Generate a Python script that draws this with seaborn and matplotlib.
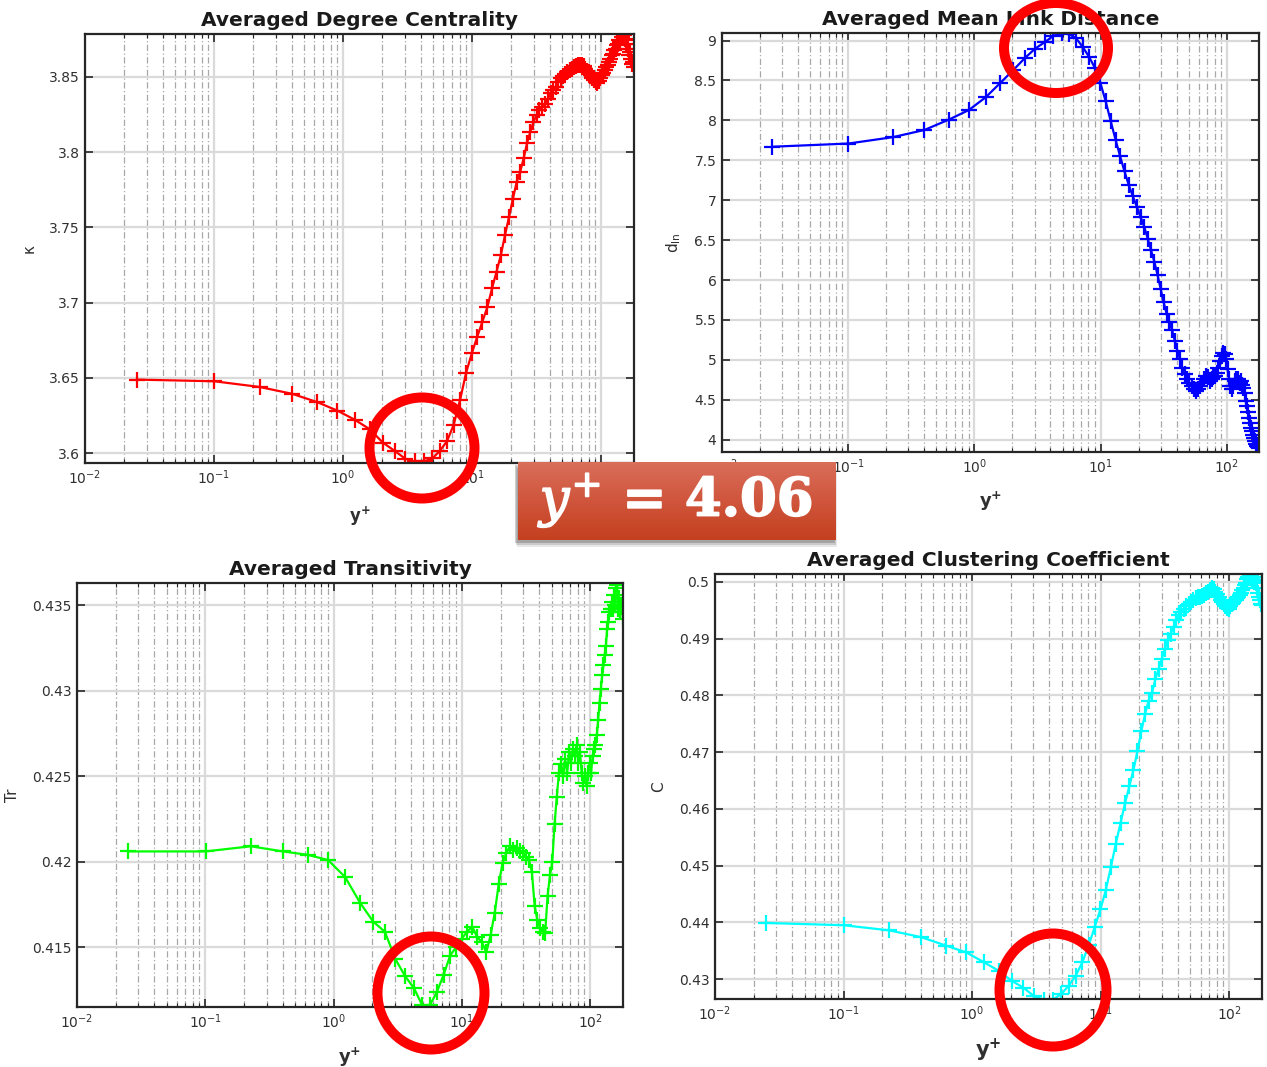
import numpy as np
import pandas as pd
import matplotlib
matplotlib.use("Agg")
import matplotlib.pyplot as plt
import seaborn as sns
from matplotlib.patches import Ellipse, Rectangle
from matplotlib.ticker import LogLocator, NullFormatter
from matplotlib.colors import LinearSegmentedColormap
import matplotlib.patheffects as pe

# ---------------- data ----------------
yplus = [0.0251, 0.1005, 0.226, 0.402, 0.628, 0.904, 1.230, 1.606, 2.032, 2.508,
         3.033, 3.607, 4.231, 4.904, 5.625, 6.396, 7.214, 8.082, 8.996, 9.960,
         10.97, 12.03, 13.13, 14.28, 15.48, 16.72, 18.01, 19.35, 20.73, 22.15,
         23.62, 25.13, 26.68, 28.28, 29.92, 31.60, 33.32, 35.09, 36.89, 38.74,
         40.62, 42.54, 44.50, 46.50, 48.54, 50.61, 52.72, 54.86, 57.04, 59.26,
         61.51, 63.79, 66.10, 68.45, 70.83, 73.23, 75.67, 78.14, 80.63, 83.16,
         85.71, 88.29, 90.89, 93.52, 96.17, 98.84, 101.5, 104.3, 107.0, 109.8,
         112.5, 115.3, 118.1, 121.0, 123.8, 126.7, 129.6, 132.4, 135.3, 138.3,
         141.2, 144.1, 147.0, 150.0, 152.9, 155.9, 158.9, 161.8, 164.8, 167.8,
         170.7, 173.7, 176.7, 180.0]

kappa = [3.6489, 3.6478, 3.6440, 3.6395, 3.6340, 3.6283, 3.6223, 3.6160, 3.6071, 3.6016,
         3.5964, 3.5945, 3.5945, 3.5965, 3.6015, 3.6080, 3.6190, 3.6355, 3.6535, 3.6664,
         3.6774, 3.6874, 3.6970, 3.7095, 3.7206, 3.7316, 3.7450, 3.7570, 3.7690, 3.7800,
         3.7870, 3.7960, 3.8060, 3.8135, 3.8200, 3.8246, 3.8280, 3.8300, 3.8323, 3.8356,
         3.8390, 3.8411, 3.8434, 3.8467, 3.8490, 3.8507, 3.8522, 3.8533, 3.8544, 3.8555,
         3.8566, 3.8573, 3.8577, 3.8582, 3.8577, 3.8573, 3.8555, 3.8538, 3.8522, 3.8511,
         3.8496, 3.8482, 3.8467, 3.8462, 3.8470, 3.8490, 3.8511, 3.8527, 3.8544, 3.8566,
         3.8582, 3.8600, 3.8622, 3.8644, 3.8655, 3.8677, 3.8688, 3.8710, 3.8721, 3.8743,
         3.8732, 3.8766, 3.8788, 3.8780, 3.8754, 3.8721, 3.8743, 3.8688, 3.8644, 3.8666,
         3.8622, 3.8588, 3.8600, 3.8566]

dln = [7.67, 7.71, 7.79, 7.88, 8.01, 8.13, 8.29, 8.47, 8.63, 8.78,
       8.90, 8.98, 9.06, 9.09, 9.08, 9.03, 8.92, 8.80, 8.66, 8.47,
       8.24, 7.99, 7.76, 7.55, 7.36, 7.19, 7.05, 6.92, 6.79, 6.67,
       6.52, 6.37, 6.23, 6.06, 5.89, 5.72, 5.58, 5.47, 5.37, 5.24,
       5.11, 5.01, 4.90, 4.82, 4.76, 4.71, 4.67, 4.63, 4.61, 4.63,
       4.67, 4.71, 4.76, 4.80, 4.78, 4.74, 4.76, 4.78, 4.80, 4.84,
       4.90, 4.99, 5.05, 5.09, 5.07, 5.01, 4.88, 4.76, 4.67, 4.63,
       4.67, 4.74, 4.76, 4.74, 4.76, 4.71, 4.74, 4.69, 4.65, 4.59,
       4.48, 4.42, 4.34, 4.27, 4.21, 4.15, 4.11, 4.06, 4.02, 3.98,
       3.94, 3.92, 3.91, 3.90]

transitivity = [0.4206, 0.4206, 0.4209, 0.4206, 0.4204, 0.4201, 0.4191, 0.4176, 0.4165, 0.4159,
                0.4143, 0.4133, 0.4126, 0.4116, 0.4116, 0.4124, 0.4134, 0.4145, 0.4150, 0.4155,
                0.4159, 0.4162, 0.4156, 0.4153, 0.4147, 0.4157, 0.4170, 0.4187, 0.4199, 0.4205,
                0.4209, 0.4207, 0.4208, 0.4206, 0.4205, 0.4203, 0.4201, 0.4194, 0.4174, 0.4166,
                0.4161, 0.4159, 0.4158, 0.4180, 0.4192, 0.4200, 0.4222, 0.4238, 0.4252, 0.4257,
                0.4250, 0.4260, 0.4252, 0.4264, 0.4258, 0.4266, 0.4262, 0.4268, 0.4258, 0.4264,
                0.4252, 0.4246, 0.4250, 0.4244, 0.4252, 0.4258, 0.4252, 0.4262, 0.4266, 0.4268,
                0.4274, 0.4283, 0.4293, 0.4301, 0.4309, 0.4315, 0.4321, 0.4326, 0.4336, 0.4340,
                0.4346, 0.4348, 0.4352, 0.4348, 0.4356, 0.4350, 0.4360, 0.4362, 0.4348, 0.4354,
                0.4346, 0.4350, 0.4349, 0.4342]

clustering = [0.4399, 0.4395, 0.4386, 0.4374, 0.4359, 0.4347, 0.4330, 0.4315, 0.4297, 0.4285,
              0.4270, 0.4264, 0.4264, 0.4273, 0.4288, 0.4306, 0.4330, 0.4360, 0.4392, 0.4423,
              0.4457, 0.4498, 0.4539, 0.4575, 0.4610, 0.4640, 0.4669, 0.4702, 0.4737, 0.4767,
              0.4791, 0.4805, 0.4829, 0.4847, 0.4865, 0.4882, 0.4897, 0.4909, 0.4921, 0.4933,
              0.4941, 0.4947, 0.4953, 0.4957, 0.4962, 0.4965, 0.4968, 0.4971, 0.4973, 0.4974,
              0.4975, 0.4977, 0.4980, 0.4983, 0.4986, 0.4989, 0.4987, 0.4983, 0.4979, 0.4974,
              0.4969, 0.4965, 0.4961, 0.4957, 0.4954, 0.4953, 0.4957, 0.4961, 0.4963, 0.4967,
              0.4969, 0.4971, 0.4974, 0.4977, 0.4981, 0.4986, 0.4990, 0.4995, 0.4999, 0.5005,
              0.5009, 0.5012, 0.5010, 0.5006, 0.5009, 0.5000, 0.5003, 0.4998, 0.4989, 0.4980,
              0.4974, 0.4968, 0.4962, 0.4959]

titles = ["Averaged Degree Centrality", "Averaged Mean Link Distance",
          "Averaged Transitivity", "Averaged Clustering Coefficient"]
ylabels = ["κ", r"d$_{\mathregular{ln}}$", "Tr", "C"]
xlabel = r"y$^{\mathregular{+}}$"

x_ticks = [1e-2, 1e-1, 1e0, 1e1, 1e2]
x_ticklabels = [r"$\mathregular{10^{-2}}$", r"$\mathregular{10^{-1}}$", r"$\mathregular{10^{0}}$",
                r"$\mathregular{10^{1}}$", r"$\mathregular{10^{2}}$"]

kappa_ticks = [3.6, 3.65, 3.7, 3.75, 3.8, 3.85]
kappa_ticklabels = ["3.6", "3.65", "3.7", "3.75", "3.8", "3.85"]
dln_ticks = [4, 4.5, 5, 5.5, 6, 6.5, 7, 7.5, 8, 8.5, 9]
dln_ticklabels = ["4", "4.5", "5", "5.5", "6", "6.5", "7", "7.5", "8", "8.5", "9"]
tr_ticks = [0.415, 0.42, 0.425, 0.43, 0.435]
tr_ticklabels = ["0.415", "0.42", "0.425", "0.43", "0.435"]
cc_ticks = [0.43, 0.44, 0.45, 0.46, 0.47, 0.48, 0.49, 0.5]
cc_ticklabels = ["0.43", "0.44", "0.45", "0.46", "0.47", "0.48", "0.49", "0.5"]

highlight_text = r"$y^{+}$ = 4.06"

# ---------------- style ----------------
sns.set_theme(style="white")
plt.rcParams["font.family"] = ["DejaVu Sans"]

W, H = 1267, 1067
fig = plt.figure(figsize=(W / 100, H / 100), dpi=100)
fig.patch.set_facecolor("white")


def rect(l, t, r, b):
    return [l / W, (H - b) / H, (r - l) / W, (b - t) / H]


panels = [
    dict(vals=kappa, color="#ff0000", box=(85, 34, 634, 463), ylim=(3.5935, 3.8785),
         ticks=kappa_ticks, tlabels=kappa_ticklabels, ylab_x=-0.088, xlab_y=-0.098, xl_size=12),
    dict(vals=dln, color="#0000ff", box=(722, 33, 1259, 452), ylim=(3.845, 9.095),
         ticks=dln_ticks, tlabels=dln_ticklabels, ylab_x=-0.072, xlab_y=-0.091, xl_size=13),
    dict(vals=transitivity, color="#00ff00", box=(77, 583, 623, 1007), ylim=(0.4115, 0.4363),
         ticks=tr_ticks, tlabels=tr_ticklabels, ylab_x=-0.104, xlab_y=-0.092, xl_size=13),
    dict(vals=clustering, color="#00ffff", box=(715, 574, 1262, 999), ylim=(0.4265, 0.5014),
         ticks=cc_ticks, tlabels=cc_ticklabels, ylab_x=-0.090, xlab_y=-0.089, xl_size=15),
]

for i, p in enumerate(panels):
    ax = fig.add_axes(rect(*p["box"]))
    ax.set_facecolor("white")
    ax.set_xscale("log")
    ax.set_axisbelow(True)
    df = pd.DataFrame({"yplus": yplus, "value": p["vals"]})
    sns.lineplot(data=df, x="yplus", y="value", ax=ax, color=p["color"], linewidth=1.6,
                 marker="+", markersize=11, markeredgewidth=1.6,
                 markeredgecolor=p["color"], estimator=None, sort=False, legend=False)
    ax.set_xlim(0.01, 180)
    ax.set_xticks(x_ticks)
    ax.set_xticklabels(x_ticklabels)
    ax.xaxis.set_minor_locator(LogLocator(base=10, subs=np.arange(2, 10)))
    ax.xaxis.set_minor_formatter(NullFormatter())
    ax.set_yticks(p["ticks"])
    ax.set_yticklabels(p["tlabels"])
    ax.set_ylim(*p["ylim"])

    ax.grid(True, which="major", color="#dadada", linewidth=1.6, linestyle="-")
    ax.grid(True, which="minor", axis="x", color="#a8a8a8", linewidth=0.9,
            linestyle=(0, (5, 2, 1, 2)))

    ax.tick_params(which="both", direction="in", top=True, right=True,
                   bottom=True, left=True, color="#262626")
    ax.tick_params(which="major", length=6, width=1.2, labelsize=10,
                   labelcolor="#303030", pad=4)
    ax.tick_params(which="minor", length=3, width=0.8)
    for s in ax.spines.values():
        s.set_color("#262626")
        s.set_linewidth(1.6)
        s.set_visible(True)

    ax.set_title(titles[i], fontsize=14.5, fontweight="bold", color="#1a1a1a", pad=6)
    ax.set_xlabel(xlabel, fontsize=p["xl_size"], fontweight="bold", color="#303030")
    ax.xaxis.set_label_coords(0.5, p["xlab_y"])
    ax.set_ylabel(ylabels[i], fontsize=11, color="#303030")
    ax.yaxis.set_label_coords(p["ylab_x"], 0.5)

# ---------------- red highlight ellipses ----------------
ellipses = [(422, 448, 105, 101), (1056, 48, 104, 90), (431, 993, 107, 113), (1053, 990, 107, 113)]
for cx, cy, w, h in ellipses:
    e = Ellipse((cx / W, 1 - cy / H), w / W, h / H, transform=fig.transFigure,
                fill=False, edgecolor="#ff0000", linewidth=7.2, zorder=20)
    fig.add_artist(e)

# ---------------- label box ----------------
bl, bt, br, bb = 518, 462, 836, 540
for dx, dy, a in [(2, 7, 0.10), (1, 5, 0.15), (0, 3, 0.22)]:
    sh = Rectangle(((bl - 3 + dx) / W, 1 - (bb + dy) / H), (br - bl + 2) / W, (bb - bt) / H,
                   transform=fig.transFigure, facecolor="#202020", edgecolor="none",
                   alpha=a, zorder=21)
    fig.add_artist(sh)

box_ax = fig.add_axes(rect(bl, bt, br, bb), zorder=22)
grad = np.linspace(0, 1, 256).reshape(-1, 1)
cmap = LinearSegmentedColormap.from_list("boxgrad", ["#d96e5a", "#d0553c", "#c4401f"])
box_ax.imshow(grad, aspect="auto", cmap=cmap, extent=[0, 1, 0, 1], origin="upper")
box_ax.set_axis_off()
box_ax.text(0.5, 0.5, highlight_text, transform=box_ax.transAxes, ha="center", va="center",
            fontsize=38, color="white", fontweight="bold", family="DejaVu Serif",
            math_fontfamily="dejavuserif",
            path_effects=[pe.withStroke(linewidth=1.2, foreground="white")])

fig.savefig("out.png", dpi=100, facecolor="white")
